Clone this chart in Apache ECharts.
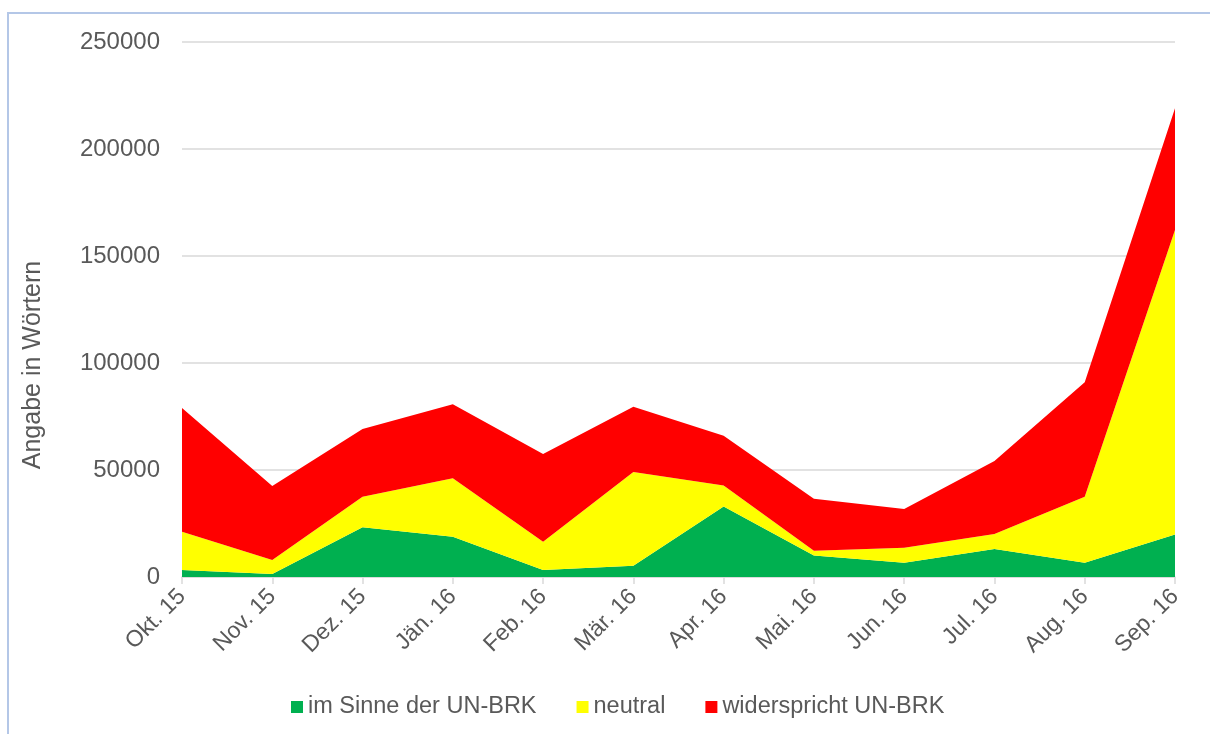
<!DOCTYPE html>
<html>
<head>
<meta charset="utf-8">
<script src="https://cdn.jsdelivr.net/npm/echarts@6/dist/echarts.min.js"></script>
<style>
  html, body { margin: 0; padding: 0; background: #fff; overflow: hidden; }
  #frame { position: absolute; left: 7px; top: 12px; width: 1400px; height: 1000px;
           border-left: 2px solid #b4c7e7; border-top: 2px solid #b4c7e7; box-sizing: border-box; }
  #chart { position: absolute; left: 0; top: 0; width: 1210px; height: 734px; }
</style>
</head>
<body>
<div id="frame"></div>
<div id="chart"></div>
<script>
const categories = ['Okt. 15','Nov. 15','Dez. 15','Jän. 16','Feb. 16','Mär. 16','Apr. 16','Mai. 16','Jun. 16','Jul. 16','Aug. 16','Sep. 16'];
const imSinne = [3300, 1400, 23200, 18800, 3300, 5300, 32900, 10000, 6700, 13100, 6700, 19900];
const neutral = [17900, 6500, 14300, 27300, 13200, 43800, 9900, 2300, 7000, 7000, 30800, 142300];
const widerspricht = [57800, 34600, 31700, 34600, 41000, 30500, 23200, 24300, 18100, 34100, 53500, 56800];
const seriesNames = ['im Sinne der UN-BRK', 'neutral', 'widerspricht UN-BRK'];
const yTitle = 'Angabe in Wörtern';

const FONT = '"Liberation Sans", Arial, sans-serif';
const TXT = '#595959';
const colors = ['#00b050', '#ffff00', '#ff0000'];

const chart = echarts.init(document.getElementById('chart'), null, { renderer: 'canvas' });

function areaSeries(name, data, color) {
  return {
    name: name, type: 'line', stack: 'total', data: data,
    symbol: 'none', showSymbol: false,
    lineStyle: { width: 0, color: color },
    itemStyle: { color: color },
    areaStyle: { color: color, opacity: 1 },
    emphasis: { disabled: true },
    animation: false
  };
}

chart.setOption({
  animation: false,
  color: colors,
  textStyle: { fontFamily: FONT },
  grid: { left: 182, right: 35, top: 42, bottom: 157, containLabel: false },
  legend: {
    data: seriesNames,
    left: 286, top: 690,
    icon: 'rect', itemWidth: 12, itemHeight: 12, itemGap: 40,
    textStyle: { color: TXT, fontSize: 23.5, fontFamily: FONT },
    selectedMode: false
  },
  xAxis: {
    type: 'category', data: categories, boundaryGap: false,
    axisLine: { show: true, lineStyle: { color: '#d9d9d9', width: 1.5 } },
    axisTick: { show: true, length: 7, lineStyle: { color: '#d9d9d9', width: 1.5 } },
    axisLabel: { rotate: 45, interval: 0, margin: 16, color: TXT, fontSize: 23, fontFamily: FONT },
    splitLine: { show: false }
  },
  yAxis: {
    type: 'value', min: 0, max: 250000, interval: 50000,
    axisLine: { show: false }, axisTick: { show: false },
    axisLabel: { margin: 22, color: TXT, fontSize: 24, fontFamily: FONT, formatter: function (v) { return String(v); } },
    splitLine: { lineStyle: { color: '#d9d9d9', width: 1.5 } }
  },
  graphic: [{
    type: 'text', x: 33, y: 365, rotation: Math.PI / 2,
    style: { text: yTitle, fill: TXT, font: '25px ' + FONT, textAlign: 'center', textVerticalAlign: 'middle' }
  }],
  series: [
    areaSeries(seriesNames[0], imSinne, colors[0]),
    areaSeries(seriesNames[1], neutral, colors[1]),
    areaSeries(seriesNames[2], widerspricht, colors[2])
  ]
});
</script>
</body>
</html>
